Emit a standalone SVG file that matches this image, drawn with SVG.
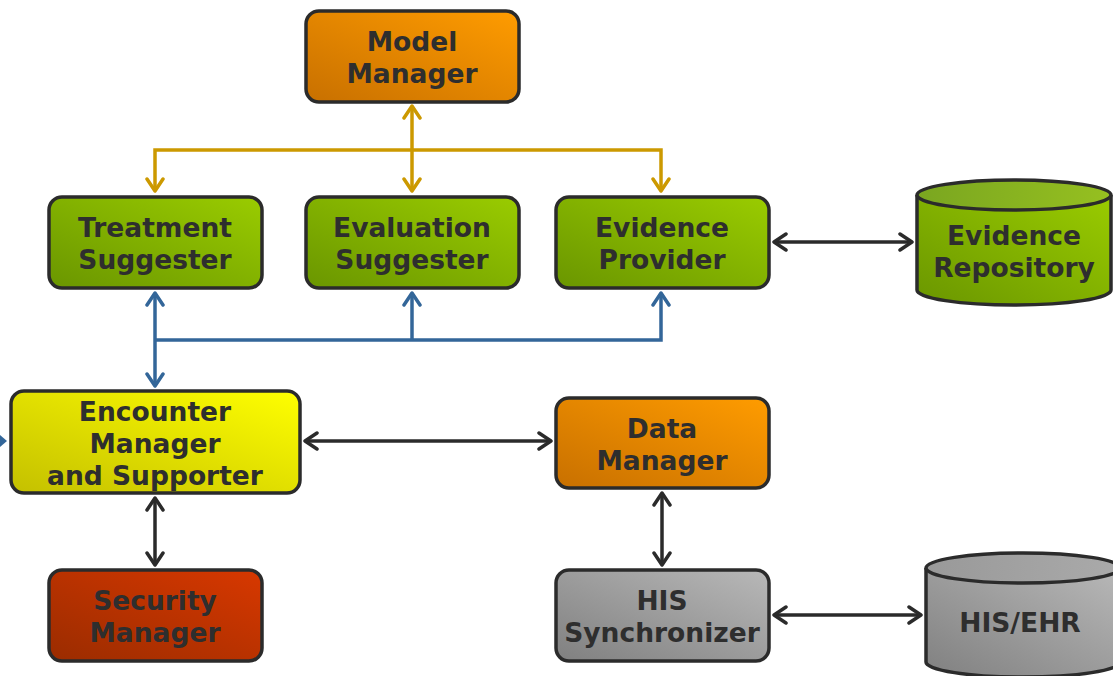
<svg xmlns="http://www.w3.org/2000/svg" width="1113" height="676" viewBox="0 0 1113 676">
<defs>
<linearGradient id="gOrange" x1="0" y1="1" x2="1" y2="0"><stop offset="0" stop-color="#c87000"/><stop offset="1" stop-color="#ff9c00"/></linearGradient>
<linearGradient id="gGreen" x1="0" y1="1" x2="1" y2="0"><stop offset="0" stop-color="#6a9600"/><stop offset="1" stop-color="#9acc00"/></linearGradient>
<linearGradient id="gYellow" x1="0" y1="1" x2="1" y2="0"><stop offset="0" stop-color="#c4c000"/><stop offset="1" stop-color="#ffff00"/></linearGradient>
<linearGradient id="gRed" x1="0" y1="1" x2="1" y2="0"><stop offset="0" stop-color="#9a2c00"/><stop offset="1" stop-color="#d83800"/></linearGradient>
<linearGradient id="gGrey" x1="0" y1="1" x2="1" y2="0"><stop offset="0" stop-color="#808080"/><stop offset="1" stop-color="#b8b8b8"/></linearGradient>
<linearGradient id="gGreenTop" x1="0" y1="0" x2="1" y2="0"><stop offset="0" stop-color="#7aa620"/><stop offset="1" stop-color="#96c020"/></linearGradient>
<linearGradient id="gGreyTop" x1="0" y1="0" x2="1" y2="0"><stop offset="0" stop-color="#999"/><stop offset="1" stop-color="#aaa"/></linearGradient>
<marker id="aGold" viewBox="0 0 20 20" refX="17" refY="10" markerWidth="20" markerHeight="20" markerUnits="userSpaceOnUse" orient="auto-start-reverse"><polyline points="5,2 17,10 5,18" fill="none" stroke="#cc9900" stroke-width="3.5" stroke-linecap="round" stroke-linejoin="round"/></marker>
<marker id="aBlue" viewBox="0 0 20 20" refX="17" refY="10" markerWidth="20" markerHeight="20" markerUnits="userSpaceOnUse" orient="auto-start-reverse"><polyline points="5,2 17,10 5,18" fill="none" stroke="#336699" stroke-width="3.5" stroke-linecap="round" stroke-linejoin="round"/></marker>
<marker id="aBlack" viewBox="0 0 20 20" refX="17" refY="10" markerWidth="20" markerHeight="20" markerUnits="userSpaceOnUse" orient="auto-start-reverse"><polyline points="5,2 17,10 5,18" fill="none" stroke="#2b2b2b" stroke-width="3.5" stroke-linecap="round" stroke-linejoin="round"/></marker>
</defs>
<style>
.box{stroke:#2b2b2b;stroke-width:3.5}
.t{font-family:"DejaVu Sans",Verdana,sans-serif;font-weight:bold;font-size:26.5px;fill:#2e2e2e;text-anchor:middle}
.gold{stroke:#cc9900;stroke-width:3.5;fill:none}
.blue{stroke:#336699;stroke-width:3.5;fill:none}
.blk{stroke:#2b2b2b;stroke-width:3.5;fill:none}
</style>
<rect width="1113" height="676" fill="#ffffff"/>
<g id="connectors">
<line class="gold" x1="412" y1="106" x2="412" y2="191" marker-start="url(#aGold)" marker-end="url(#aGold)"/>
<polyline class="gold" points="155,191 155,150 661,150 661,191" marker-start="url(#aGold)" marker-end="url(#aGold)"/>
<line class="blue" x1="155" y1="293" x2="155" y2="386" marker-start="url(#aBlue)" marker-end="url(#aBlue)"/>
<polyline class="blue" points="155,340 661,340 661,293" marker-end="url(#aBlue)"/>
<line class="blue" x1="412" y1="340" x2="412" y2="293" marker-end="url(#aBlue)"/>
<polygon points="0,435 7,441 0,447" fill="#336699"/>
<line class="blk" x1="774" y1="242" x2="912" y2="242" marker-start="url(#aBlack)" marker-end="url(#aBlack)"/>
<line class="blk" x1="305" y1="441" x2="551" y2="441" marker-start="url(#aBlack)" marker-end="url(#aBlack)"/>
<line class="blk" x1="155" y1="498" x2="155" y2="565" marker-start="url(#aBlack)" marker-end="url(#aBlack)"/>
<line class="blk" x1="662" y1="493" x2="662" y2="565" marker-start="url(#aBlack)" marker-end="url(#aBlack)"/>
<line class="blk" x1="774" y1="615" x2="921" y2="615" marker-start="url(#aBlack)" marker-end="url(#aBlack)"/>
</g>
<g id="model-manager">
<rect class="box" x="306" y="11" width="213" height="91" rx="13" fill="url(#gOrange)"/>
<text class="t" x="412" y="51">Model</text><text class="t" x="412" y="83">Manager</text>
</g>
<g id="treatment-suggester">
<rect class="box" x="49" y="197" width="213" height="91" rx="13" fill="url(#gGreen)"/>
<text class="t" x="155" y="237">Treatment</text><text class="t" x="155" y="269">Suggester</text>
</g>
<g id="evaluation-suggester">
<rect class="box" x="306" y="197" width="213" height="91" rx="13" fill="url(#gGreen)"/>
<text class="t" x="412" y="237">Evaluation</text><text class="t" x="412" y="269">Suggester</text>
</g>
<g id="evidence-provider">
<rect class="box" x="556" y="197" width="213" height="91" rx="13" fill="url(#gGreen)"/>
<text class="t" x="662" y="237">Evidence</text><text class="t" x="662" y="269">Provider</text>
</g>
<g id="evidence-repository">
<path class="box" d="M917,195 L917,290 A97,15 0 0 0 1111,290 L1111,195" fill="url(#gGreen)"/>
<ellipse class="box" cx="1014" cy="195" rx="97" ry="15" fill="url(#gGreenTop)"/>
<text class="t" x="1014" y="245">Evidence</text><text class="t" x="1014" y="277">Repository</text>
</g>
<g id="encounter-manager">
<rect class="box" x="11" y="391" width="289" height="102" rx="13" fill="url(#gYellow)"/>
<text class="t" x="155" y="421">Encounter</text><text class="t" x="155" y="453">Manager</text><text class="t" x="155" y="485">and Supporter</text>
</g>
<g id="data-manager">
<rect class="box" x="556" y="398" width="213" height="90" rx="13" fill="url(#gOrange)"/>
<text class="t" x="662" y="438">Data</text><text class="t" x="662" y="470">Manager</text>
</g>
<g id="security-manager">
<rect class="box" x="49" y="570" width="213" height="91" rx="13" fill="url(#gRed)"/>
<text class="t" x="155" y="610">Security</text><text class="t" x="155" y="642">Manager</text>
</g>
<g id="his-synchronizer">
<rect class="box" x="556" y="570" width="213" height="91" rx="13" fill="url(#gGrey)"/>
<text class="t" x="662" y="610">HIS</text><text class="t" x="662" y="642">Synchronizer</text>
</g>
<g id="his-ehr">
<path class="box" d="M926,568 L926,662 A97,15 0 0 0 1120,662 L1120,568" fill="url(#gGrey)"/>
<ellipse class="box" cx="1023" cy="568" rx="97" ry="15" fill="url(#gGreyTop)"/>
<text class="t" x="1020" y="632">HIS/EHR</text>
</g>
</svg>
